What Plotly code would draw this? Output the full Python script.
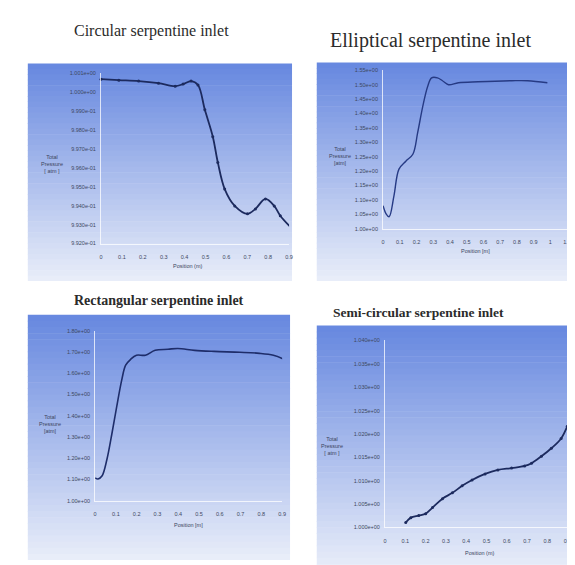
import plotly.graph_objects as go

W, H = 575, 565

# ---------------- data ----------------
# Panel 1: Circular serpentine inlet
circ_x = [0, 0.085, 0.18, 0.275, 0.355, 0.393, 0.431, 0.464, 0.497, 0.535, 0.559,
          0.592, 0.64, 0.701, 0.739, 0.787, 0.829, 0.858, 0.905]
circ_y = [1.00069, 1.00064, 1.00059, 1.00048, 1.00032, 1.00043, 1.00059, 1.00038,
          0.99907, 0.99765, 0.99629, 0.99488, 0.99399, 0.99357, 0.99383, 0.99436,
          0.99399, 0.99347, 0.99289]
circ_xticks = [0, 0.1, 0.2, 0.3, 0.4, 0.5, 0.6, 0.7, 0.8, 0.9]
circ_yticks = [0.992, 0.993, 0.994, 0.995, 0.996, 0.997, 0.998, 0.999, 1.000, 1.001]

# Panel 2: Elliptical serpentine inlet
ell_x = [0, 0.018, 0.036, 0.065, 0.095, 0.136, 0.178, 0.207, 0.237, 0.266, 0.290,
         0.325, 0.355, 0.391, 0.450, 0.568, 0.769, 0.864, 0.982]
ell_y = [1.0795, 1.0515, 1.0415, 1.114, 1.207, 1.2345, 1.2585, 1.3345, 1.424, 1.493,
         1.524, 1.524, 1.514, 1.50, 1.507, 1.5105, 1.514, 1.514, 1.507]
ell_xticks = [0, 0.1, 0.2, 0.3, 0.4, 0.5, 0.6, 0.7, 0.8, 0.9, 1.0, 1.1]
ell_yticks = [1.00, 1.05, 1.10, 1.15, 1.20, 1.25, 1.30, 1.35, 1.40, 1.45, 1.50, 1.55]

# Panel 3: Rectangular serpentine inlet
rect_x = [0, 0.014, 0.033, 0.057, 0.081, 0.104, 0.128, 0.147, 0.171, 0.199, 0.242,
          0.289, 0.351, 0.398, 0.479, 0.573, 0.697, 0.791, 0.858, 0.910]
rect_y = [1.107, 1.102, 1.116, 1.195, 1.316, 1.442, 1.567, 1.637, 1.665, 1.684, 1.684,
          1.707, 1.712, 1.716, 1.707, 1.702, 1.698, 1.693, 1.684, 1.665]
rect_xticks = [0, 0.1, 0.2, 0.3, 0.4, 0.5, 0.6, 0.7, 0.8, 0.9]
rect_yticks = [1.0, 1.1, 1.2, 1.3, 1.4, 1.5, 1.6, 1.7, 1.8]

# Panel 4: Semi-circular serpentine inlet
semi_x = [0.102, 0.127, 0.166, 0.200, 0.234, 0.283, 0.332, 0.380, 0.429, 0.493, 0.556,
          0.624, 0.688, 0.722, 0.771, 0.820, 0.868, 0.898, 0.932, 0.956]
semi_y = [1.00105, 1.0021, 1.00255, 1.00295, 1.00425, 1.00615, 1.0074, 1.0089, 1.01015,
          1.01145, 1.0123, 1.0127, 1.01315, 1.01375, 1.01525, 1.01695, 1.01905, 1.0216,
          1.0252, 1.02795]
semi_xticks = [0, 0.1, 0.2, 0.3, 0.4, 0.5, 0.6, 0.7, 0.8, 0.9]
semi_yticks = [1.000, 1.005, 1.010, 1.015, 1.020, 1.025, 1.030, 1.035, 1.040]

titles = ["Circular serpentine inlet", "Elliptical serpentine inlet",
          "Rectangular serpentine inlet", "Semi-circular serpentine inlet"]


def px(x):
    return x / W


def py(y):
    return 1 - y / H


fig = go.Figure()
shapes = []
annotations = []

# gradient backgrounds
bg_rects = [(18, 285, 53, 273), (310, 575, 52, 273), (18, 283, 307, 555), (310, 575, 318, 565)]
top_c = (104, 137, 224)
bot_c = (232, 237, 249)
N = 40
for (x0, x1, y0, y1) in bg_rects:
    for i in range(N):
        t = i / (N - 1)
        c = tuple(int(top_c[k] + (bot_c[k] - top_c[k]) * t) for k in range(3))
        ya = y0 + (y1 - y0) * i / N
        yb = y0 + (y1 - y0) * (i + 1) / N + 0.6
        shapes.append(dict(type="rect", xref="paper", yref="paper", layer="below",
                           x0=px(x0), x1=px(x1), y0=py(min(yb, y1)), y1=py(ya),
                           line=dict(width=0), fillcolor="rgb(%d,%d,%d)" % c))

panels = [
    dict(x=circ_x, y=circ_y, xt=circ_xticks, yt=circ_yticks, xdom=(92, 282), ydom=(235, 63),
         xr=(0, 0.9), fmt_y="{:.3e}", fmt_x="{:g}", mode="lines+markers", width=1.8,
         color="#1c2a5e"),
    dict(x=ell_x, y=ell_y, xt=ell_xticks, yt=ell_yticks, xdom=(377, 563), ydom=(220, 60),
         xr=(0, 1.1), fmt_y="{:.2e}", fmt_x="{:g}", mode="lines", width=1.4,
         color="#263a84"),
    dict(x=rect_x, y=rect_y, xt=rect_xticks, yt=rect_yticks, xdom=(86, 275), ydom=(495, 323),
         xr=(0, 0.9), fmt_y="{:.2e}", fmt_x="{:g}", mode="lines", width=1.6,
         color="#1e2d6a"),
    dict(x=semi_x, y=semi_y, xt=semi_xticks, yt=semi_yticks, xdom=(379, 575), ydom=(522, 333),
         xr=(0, 0.956), fmt_y="{:.3e}", fmt_x="{:g}", mode="lines+markers", width=1.8,
         color="#1c2a5e"),
]

tick_font = dict(family="Liberation Sans, Arial", size=5.5, color="#3e4862")
for i, p in enumerate(panels):
    n = i + 1
    xa = "x" if n == 1 else "x%d" % n
    ya = "y" if n == 1 else "y%d" % n
    fig.add_trace(go.Scatter(x=p["x"], y=p["y"], xaxis=xa, yaxis=ya, mode=p["mode"],
                             line=dict(color=p["color"], width=p["width"], shape="spline"),
                             marker=dict(size=3, color=p["color"]),
                             cliponaxis=False, showlegend=False, hoverinfo="skip"))
    xkey = "xaxis" if n == 1 else "xaxis%d" % n
    ykey = "yaxis" if n == 1 else "yaxis%d" % n
    fig.update_layout(**{
        xkey: dict(domain=[px(p["xdom"][0]), px(p["xdom"][1])], range=list(p["xr"]),
                   anchor=ya, tickvals=p["xt"], ticktext=[p["fmt_x"].format(v) for v in p["xt"]],
                   showgrid=False, zeroline=False, showline=True,
                   linecolor="rgba(255,255,255,0.75)", linewidth=1,
                   tickfont=tick_font, ticks="", ticklabelstandoff=8, fixedrange=True),
        ykey: dict(domain=[py(p["ydom"][0]), py(p["ydom"][1])],
                   range=[p["yt"][0], p["yt"][-1]], anchor=xa,
                   tickvals=p["yt"], ticktext=[p["fmt_y"].format(v) for v in p["yt"]],
                   showgrid=False, zeroline=False, showline=True,
                   linecolor="rgba(255,255,255,0.75)", linewidth=1,
                   tickfont=tick_font, ticks="", ticklabelstandoff=3, fixedrange=True),
    })

# titles
title_specs = [
    (titles[0], 143, 20, 16, False),
    (titles[1], 425, 30, 20, False),
    (titles[2], 151, 293, 14, True),
    (titles[3], 413, 305, 13.5, True),
]
for text, x, y, size, bold in title_specs:
    annotations.append(dict(text="<b>%s</b>" % text if bold else text, xref="paper", yref="paper",
                            x=px(x), y=py(y), xanchor="center", yanchor="middle", showarrow=False,
                            font=dict(family="Liberation Serif, Times New Roman", size=size,
                                      color="#2b2b2b")))

# axis titles
ytitles = [("Total<br>Pressure<br>[ atm ]", 42, 155), ("Total<br>Pressure<br>[atm]", 333, 147),
           ("Total<br>Pressure<br>[atm]", 40, 417), ("Total<br>Pressure<br>[ atm ]", 325, 440)]
for text, x, y in ytitles:
    annotations.append(dict(text=text, xref="paper", yref="paper", x=px(x), y=py(y),
                            xanchor="center", yanchor="middle", showarrow=False,
                            font=dict(family="Liberation Sans, Arial", size=5.5, color="#3c4560")))
xtitles = [("Position (m)", 180, 258), ("Position [m]", 470, 243),
           ("Position [m]", 180, 520), ("Position (m)", 475, 548)]
for text, x, y in xtitles:
    annotations.append(dict(text=text, xref="paper", yref="paper", x=px(x), y=py(y),
                            xanchor="center", yanchor="middle", showarrow=False,
                            font=dict(family="Liberation Sans, Arial", size=5.5, color="#3c4560")))

fig.update_layout(width=W, height=H, margin=dict(l=0, r=0, t=0, b=0),
                  paper_bgcolor="white", plot_bgcolor="rgba(0,0,0,0)",
                  shapes=shapes, annotations=annotations, showlegend=False)

fig.write_html("out.html", config={"displayModeBar": False})
